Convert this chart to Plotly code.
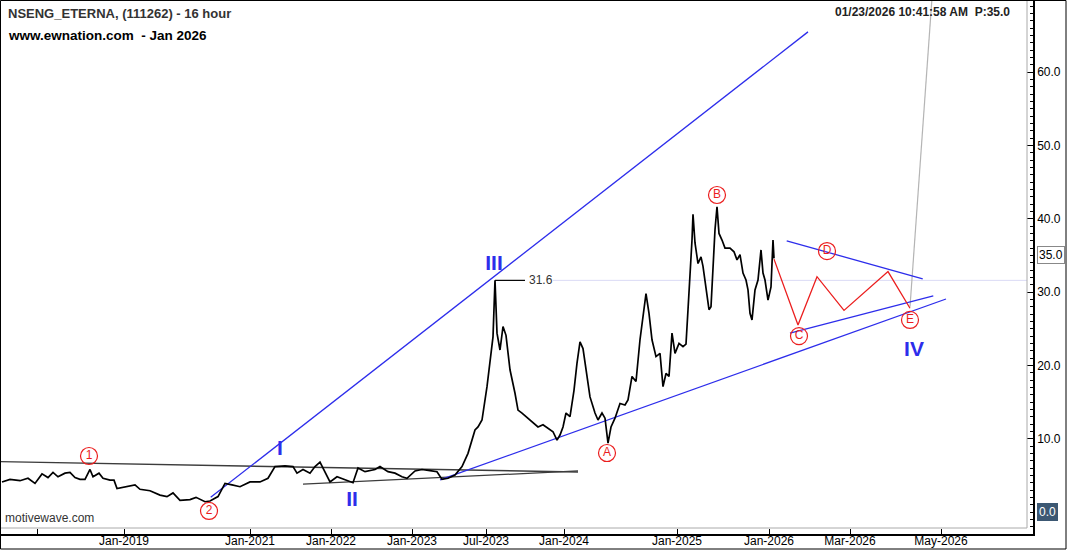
import plotly.graph_objects as go

# ---------------- data (x = bar position on the compressed time scale) ----------------
bar_x = [2, 10, 20, 28, 35, 42, 48, 53, 58, 65, 70, 75, 80, 85, 90, 93, 99, 103, 110, 114,
         117, 125, 135, 140, 150, 160, 167, 173, 180, 190, 196, 205, 210, 218, 225, 232, 240,
         250, 260, 268, 275, 285, 293, 297, 303, 310, 315, 320, 325, 330, 337, 345, 353, 358,
         365, 375, 380, 388, 395, 402, 407, 415, 422, 430, 437, 442, 448, 455, 462, 468,
         470, 475, 478, 482, 487, 490, 493, 495, 497, 500, 503, 506, 510, 515, 518, 522, 528,
         533, 538, 543, 548, 553, 557, 560, 563, 566, 570, 574, 577, 580, 583, 587, 590,
         595, 598, 602, 605, 608, 611, 615, 620, 625, 628, 632, 636, 640, 643, 646, 649, 652,
         656, 660, 663, 666, 669, 672, 675, 679, 683, 686, 688, 690, 692, 693, 695, 698,
         701, 703, 705, 707, 709, 711, 713, 715, 717, 719, 722, 725, 730, 734, 737, 740, 743,
         746, 748, 750, 752, 755, 758, 761, 763, 765, 768, 771, 773, 774]
price = [4.1, 4.45, 4.27, 4.6, 3.9, 5.2, 4.7, 5.4, 4.8, 5.3, 5.4, 4.7, 4.45, 4.45, 5.8, 4.8, 5.3, 4.6, 4.35, 4.35,
         3.2, 3.45, 3.7, 3.1, 2.9, 2.3, 2.1, 2.6, 1.6, 1.7, 2.0, 1.4, 1.5, 2.1, 3.9, 3.7, 3.45,
         4.1, 4.1, 4.6, 6.2, 6.3, 6.2, 5.3, 5.8, 5.3, 6.2, 6.8, 5.5, 4.1, 4.8, 4.35, 4.0, 6.0,
         5.5, 5.8, 6.2, 5.5, 5.3, 4.8, 4.6, 5.6, 5.8, 5.65, 5.5, 4.45, 4.6, 5.05, 6.2, 8.0,
         8.9, 11.2, 11.6, 12.55, 17.1, 20.3, 23.9, 31.6, 24.4, 22.1, 25.3, 24.1, 19.4, 16.2, 13.9, 13.5, 12.8,
         12.1, 11.6, 11.9, 11.4, 10.95, 9.8, 10.5, 11.6, 13.5, 13.0, 16.6, 20.3, 23.2, 22.3, 18.5, 15.7,
         13.5, 12.55, 13.5, 12.8, 9.4, 11.6, 12.8, 14.8, 14.6, 15.3, 18.5, 17.8, 23.5, 27.1, 29.8, 27.1, 23.5,
         21.2, 21.65, 17.1, 18.9, 18.5, 24.4, 21.65, 23.0, 22.55, 22.9, 27.6, 31.65, 37.1, 40.6, 36.7, 33.9,
         34.8, 33.5, 31.65, 29.8, 27.6, 28.0, 33.9, 38.5, 41.65, 38.0, 37.1, 36.0, 36.0, 35.5, 34.4, 35.1, 32.6,
         31.65, 30.3, 27.1, 26.2, 30.3, 31.65, 35.75, 32.6, 31.65, 28.9, 30.7, 37.1, 34.6]

# projected triangle path (red)
proj_x = [774, 798, 817, 844, 888, 910]
proj_y = [34.5, 25.5, 32.1, 27.5, 32.8, 27.8]

# trend lines: (x0, y0, x1, y1)
blue_lines = [
    (210.7, 2.0, 808, 65.5),     # wave channel
    (440, 4.37, 946, 29.06),     # lower trendline
    (786.7, 37.0, 922.7, 31.8),  # triangle B-D line
    (790, 24.4, 933.3, 29.5),    # triangle C-E line
]
black_lines = [
    (0, 6.86, 578, 5.46),
    (303, 3.8, 578, 5.6),
]
gray_line = (910, 28.0, 933.5, 73.0)

# labels
red_lbl_text = ["1", "2", "A", "B", "C", "D", "E"]
red_lbl_x = [89, 209, 607, 717, 799, 827, 910]
red_lbl_y = [7.64, 0.14, 8.05, 43.25, 24.0, 35.6, 26.2]

blue_lbl_text = ["I", "II", "III", "IV"]
blue_lbl_x = [280, 352, 494, 914]
blue_lbl_y = [8.46, 1.5, 33.7, 22.0]

tick_vals = [37, 124, 250, 331, 412, 486, 564, 677, 769, 850, 941]
tick_text = ["", "Jan-2019", "Jan-2021", "Jan-2022", "Jan-2023", "Jul-2023", "Jan-2024",
             "Jan-2025", "Jan-2026", "Mar-2026", "May-2026"]
y_ticks = [10, 20, 30, 40, 50, 60]

peak_value = 31.6
last_price = 35.0

BLUE = "rgb(45,45,235)"
RED = "rgb(235,30,30)"
FONT = "Liberation Sans, Arial, sans-serif"

fig = go.Figure()

# reference line at 31.6
fig.add_trace(go.Scatter(x=[553, 1027], y=[peak_value, peak_value], mode="lines",
                         line=dict(color="rgb(218,218,245)", width=1), hoverinfo="skip"))

for (x0, y0, x1, y1) in black_lines:
    fig.add_trace(go.Scatter(x=[x0, x1], y=[y0, y1], mode="lines",
                             line=dict(color="rgb(60,60,60)", width=1.3), hoverinfo="skip"))

fig.add_trace(go.Scatter(x=[gray_line[0], gray_line[2]], y=[gray_line[1], gray_line[3]], mode="lines",
                         line=dict(color="rgb(180,180,180)", width=1.2), hoverinfo="skip"))

for (x0, y0, x1, y1) in blue_lines:
    fig.add_trace(go.Scatter(x=[x0, x1], y=[y0, y1], mode="lines",
                             line=dict(color=BLUE, width=1.3), hoverinfo="skip"))

# price
fig.add_trace(go.Scatter(x=bar_x, y=price, mode="lines",
                         line=dict(color="black", width=1.7), hoverinfo="skip"))

# projection
fig.add_trace(go.Scatter(x=proj_x, y=proj_y, mode="lines",
                         line=dict(color=RED, width=1.3), hoverinfo="skip"))

# 31.6 leader
fig.add_trace(go.Scatter(x=[495, 525], y=[peak_value, peak_value], mode="lines",
                         line=dict(color="black", width=1.2), hoverinfo="skip"))
fig.add_annotation(x=527, y=peak_value, text=f"{peak_value:.1f}", showarrow=False,
                   xanchor="left", yanchor="middle", font=dict(family=FONT, size=12, color="#333"))

# red circled labels
fig.add_trace(go.Scatter(x=red_lbl_x, y=red_lbl_y, mode="markers+text", text=red_lbl_text,
                         textposition="middle center",
                         textfont=dict(family=FONT, size=12, color=RED),
                         marker=dict(symbol="circle-open", size=17, color=RED, line=dict(width=1.2, color=RED)),
                         hoverinfo="skip"))

# blue wave labels
fig.add_trace(go.Scatter(x=blue_lbl_x, y=blue_lbl_y, mode="text", text=[f"<b>{t}</b>" for t in blue_lbl_text],
                         textposition="middle center",
                         textfont=dict(family=FONT, size=21, color=BLUE), hoverinfo="skip"))

# texts
fig.add_annotation(xref="paper", yref="paper", x=6/1033, y=1 - 14/534, text="<b>NSENG_ETERNA, (111262) - 16 hour</b>",
                   showarrow=False, xanchor="left", yanchor="middle", font=dict(family=FONT, size=13, color="#333"))
fig.add_annotation(xref="paper", yref="paper", x=6/1033, y=1 - 35/534, text="<b>www.ewnation.com  - Jan 2026</b>",
                   showarrow=False, xanchor="left", yanchor="middle", font=dict(family=FONT, size=13.5, color="black"))
fig.add_annotation(xref="paper", yref="paper", x=1012/1033, y=1 - 12/534, text="<b>01/23/2026 10:41:58 AM  P:35.0</b>",
                   showarrow=False, xanchor="right", yanchor="middle", font=dict(family=FONT, size=12, color="#222"))
fig.add_annotation(xref="paper", yref="paper", x=3/1033, y=1 - 518/534, text="motivewave.com",
                   showarrow=False, xanchor="left", yanchor="middle", font=dict(family=FONT, size=12, color="#333"))

# axis price markers
fig.add_annotation(xref="paper", yref="y", x=1037/1033, y=last_price, text=f"{last_price:.1f}", showarrow=False,
                   xanchor="left", yanchor="middle", bgcolor="white", bordercolor="#888", borderwidth=1,
                   borderpad=1, font=dict(family=FONT, size=12, color="black"))
fig.add_annotation(xref="paper", yref="y", x=1037/1033, y=0, text="0.0", showarrow=False,
                   xanchor="left", yanchor="middle", bgcolor="rgb(60,88,115)", bordercolor="rgb(60,88,115)",
                   borderwidth=1, borderpad=1, font=dict(family=FONT, size=12, color="white"))

# plot-area border (gray) and outer frame
fig.add_shape(type="rect", xref="paper", yref="paper", x0=0, x1=1027/1033, y0=(534-528)/534, y1=1,
              line=dict(color="rgb(170,170,170)", width=1))
fig.add_shape(type="rect", xref="paper", yref="paper", x0=0.5/1033, x1=1066/1033, y0=(534-549)/534, y1=1 - 0.5/534,
              line=dict(color="black", width=1))

fig.update_layout(
    width=1070, height=550,
    margin=dict(l=0, r=37, t=0, b=16),
    paper_bgcolor="white", plot_bgcolor="white",
    showlegend=False,
    xaxis=dict(range=[0, 1033], tickvals=tick_vals, ticktext=tick_text, ticks="inside", ticklen=5,
               tickcolor="black", showline=True, linecolor="black", linewidth=1.5, showgrid=False,
               zeroline=False, automargin=False, fixedrange=True, ticklabelstandoff=-5,
               tickfont=dict(family=FONT, size=12, color="black")),
    yaxis=dict(range=[(512 - 534) / 7.33, 512 / 7.33], side="right", tickvals=y_ticks,
               ticktext=[f"{v:.1f}" for v in y_ticks], ticks="inside", ticklen=6, tickcolor="black",
               showline=True, linecolor="black", linewidth=1.5, showgrid=False, zeroline=False,
               automargin=False, fixedrange=True,
               minor=dict(dtick=1, ticks="inside", ticklen=3, tickcolor="black"),
               tickfont=dict(family=FONT, size=12, color="black")),
)

fig.write_html("out.html", config={"displayModeBar": False},
               post_script="document.body.style.margin='0';")
